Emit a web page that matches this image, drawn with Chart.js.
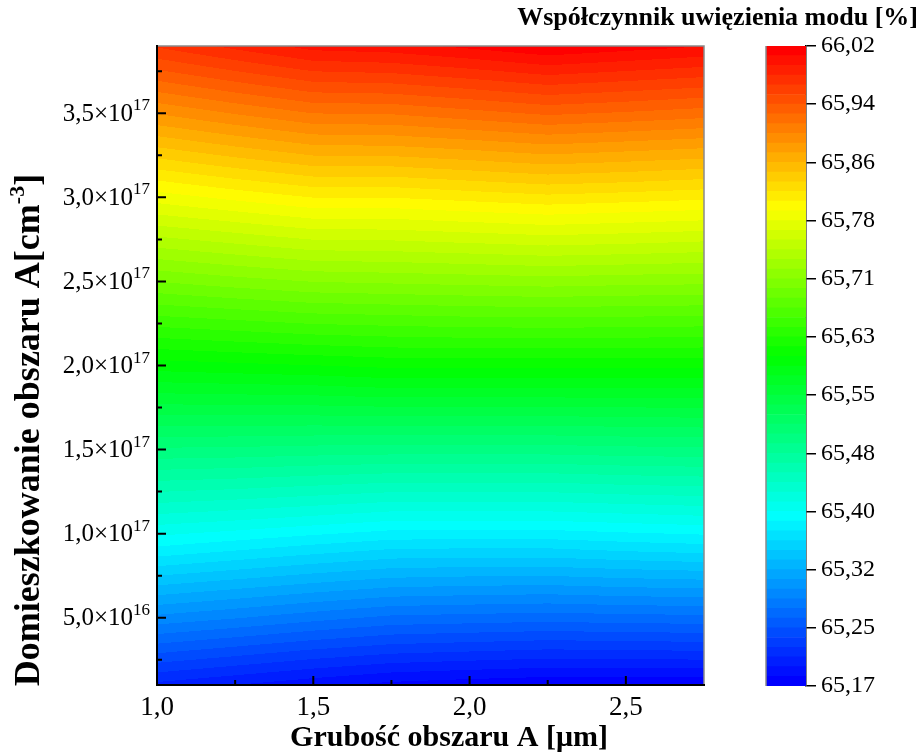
<!DOCTYPE html>
<html>
<head>
<meta charset="utf-8">
<script src="https://cdn.jsdelivr.net/npm/chart.js@4.4.1/dist/chart.umd.min.js"></script>
<style>
  html, body { margin: 0; padding: 0; background: #fff; }
  #wrap { position: relative; width: 921px; height: 753px; }
  #wrap canvas { position: absolute; left: 0; top: 0; }
</style>
</head>
<body>
<div id="wrap">
  <canvas id="mapCanvas" width="921" height="753"></canvas>
  <canvas id="barCanvas" width="921" height="753"></canvas>
</div>
<script>
// thickness of region A [um] (columns) and doping of region A [cm-3] (rows)
const thickness = [1.0, 1.25, 1.5, 1.75, 2.0, 2.25, 2.5, 2.75];
const doping = [0.1e17, 0.3e17, 0.5e17, 0.7e17, 0.9e17, 1.1e17, 1.3e17, 1.5e17, 1.7e17, 1.9e17,
                2.1e17, 2.3e17, 2.5e17, 2.7e17, 2.9e17, 3.1e17, 3.3e17, 3.5e17, 3.7e17, 3.9e17];
// mode confinement factor [%], one row per doping value
const confinement = [
  [65.203, 65.194, 65.185, 65.177, 65.173, 65.170, 65.170, 65.170],
  [65.248, 65.239, 65.230, 65.223, 65.220, 65.217, 65.218, 65.219],
  [65.293, 65.285, 65.276, 65.268, 65.266, 65.264, 65.266, 65.267],
  [65.337, 65.329, 65.321, 65.314, 65.312, 65.311, 65.314, 65.316],
  [65.382, 65.374, 65.366, 65.359, 65.358, 65.358, 65.362, 65.365],
  [65.422, 65.417, 65.411, 65.405, 65.405, 65.405, 65.408, 65.411],
  [65.461, 65.458, 65.454, 65.450, 65.450, 65.450, 65.453, 65.455],
  [65.500, 65.499, 65.497, 65.496, 65.496, 65.496, 65.498, 65.499],
  [65.540, 65.540, 65.540, 65.541, 65.541, 65.541, 65.542, 65.543],
  [65.579, 65.581, 65.583, 65.587, 65.587, 65.587, 65.587, 65.587],
  [65.618, 65.622, 65.626, 65.629, 65.630, 65.630, 65.630, 65.629],
  [65.657, 65.662, 65.667, 65.669, 65.671, 65.672, 65.671, 65.670],
  [65.695, 65.702, 65.708, 65.710, 65.712, 65.714, 65.712, 65.711],
  [65.733, 65.741, 65.749, 65.750, 65.753, 65.756, 65.754, 65.751],
  [65.772, 65.781, 65.790, 65.790, 65.794, 65.798, 65.795, 65.792],
  [65.810, 65.821, 65.831, 65.831, 65.836, 65.841, 65.838, 65.834],
  [65.849, 65.861, 65.872, 65.873, 65.878, 65.884, 65.880, 65.876],
  [65.888, 65.901, 65.913, 65.914, 65.921, 65.928, 65.924, 65.919],
  [65.927, 65.941, 65.954, 65.956, 65.963, 65.971, 65.966, 65.961],
  [65.966, 65.981, 65.995, 65.998, 66.006, 66.015, 66.009, 66.003]
];

const xMajorTicks = [1.0, 1.5, 2.0, 2.5];
const xMinorTicks = [1.25, 1.75, 2.25];
const yMajorTicks = [0.5e17, 1.0e17, 1.5e17, 2.0e17, 2.5e17, 3.0e17, 3.5e17];
const yMinorTicks = [0.25e17, 0.75e17, 1.25e17, 1.75e17, 2.25e17, 2.75e17, 3.25e17, 3.75e17];

const cbMin = 65.1685, cbMax = 66.0155;
const cbTicks = [65.1685, 65.2455, 65.3225, 65.3995, 65.4765, 65.5535, 65.6305, 65.7075, 65.7845, 65.8615, 65.9385, 66.0155];
const cbTickLabels = ['65,17', '65,25', '65,32', '65,40', '65,48', '65,55', '65,63', '65,71', '65,78', '65,86', '65,94', '66,02'];
const LEVELS = 66;

const cmapStops = [0, 0.26, 0.515, 0.75, 1];
const cmapColors = [[0, 0, 255], [0, 255, 255], [0, 255, 0], [255, 255, 0], [255, 0, 0]];

const SERIF = '"Liberation Serif", "Times New Roman", serif';
const X_TITLE = 'Grubość obszaru A [μm]';
const CB_TITLE = 'Współczynnik uwięzienia modu [%]';

function cmap(t) {
  t = Math.max(0, Math.min(1, t));
  let i = 0;
  while (i < cmapStops.length - 2 && t > cmapStops[i + 1]) i++;
  const f = (t - cmapStops[i]) / (cmapStops[i + 1] - cmapStops[i]);
  const a = cmapColors[i], b = cmapColors[i + 1];
  return [0, 1, 2].map(k => Math.round(a[k] + (b[k] - a[k]) * f));
}

function levelOf(v) {
  const step = (cbMax - cbMin) / LEVELS;
  return Math.max(0, Math.min(LEVELS - 1, Math.floor((v - cbMin) / step)));
}

function levelColor(k) { return cmap(k / (LEVELS - 1)); }

function locate(arr, v) {
  let i = 0;
  while (i < arr.length - 2 && v > arr[i + 1]) i++;
  const t = Math.max(0, Math.min(1, (v - arr[i]) / (arr[i + 1] - arr[i])));
  return [i, t];
}

// filled contour map, drawn pixel by pixel through the chart scales
const fieldPlugin = {
  id: 'field',
  beforeDatasetsDraw(chart) {
    const { ctx, chartArea: a, scales: { x, y } } = chart;
    const w = Math.round(a.right - a.left), h = Math.round(a.bottom - a.top);
    const off = document.createElement('canvas');
    off.width = w; off.height = h;
    const octx = off.getContext('2d');
    const img = octx.createImageData(w, h);
    const cols = [];
    for (let i = 0; i < w; i++) cols.push(locate(thickness, x.getValueForPixel(a.left + i + 0.5)));
    for (let j = 0; j < h; j++) {
      const [r, ty] = locate(doping, y.getValueForPixel(a.top + j + 0.5));
      const r0 = confinement[r], r1 = confinement[r + 1];
      for (let i = 0; i < w; i++) {
        const [c, tx] = cols[i];
        const v0 = r0[c] + (r0[c + 1] - r0[c]) * tx;
        const v1 = r1[c] + (r1[c + 1] - r1[c]) * tx;
        const rgb = levelColor(levelOf(v0 + (v1 - v0) * ty));
        const p = (j * w + i) * 4;
        img.data[p] = rgb[0]; img.data[p + 1] = rgb[1]; img.data[p + 2] = rgb[2]; img.data[p + 3] = 255;
      }
    }
    octx.putImageData(img, 0, 0);
    ctx.drawImage(off, a.left, a.top);
  }
};

// axes frame, inward ticks, y labels with exponents, axis titles
const framePlugin = {
  id: 'frame',
  beforeDraw(chart) {
    const { ctx } = chart;
    ctx.save(); ctx.fillStyle = '#fff'; ctx.fillRect(0, 0, chart.width, chart.height); ctx.restore();
  },
  afterDraw(chart) {
    const { ctx, chartArea: a, scales: { x, y } } = chart;
    ctx.save();
    ctx.strokeStyle = '#8a8a8a'; ctx.lineWidth = 1.5;
    ctx.beginPath();
    ctx.moveTo(a.left, a.top); ctx.lineTo(a.right, a.top); ctx.lineTo(a.right, a.bottom);
    ctx.stroke();
    ctx.strokeStyle = '#000'; ctx.lineWidth = 2;
    ctx.beginPath();
    ctx.moveTo(a.left, a.top - 1); ctx.lineTo(a.left, a.bottom); ctx.lineTo(a.right + 1, a.bottom);
    ctx.stroke();
    ctx.beginPath();
    xMajorTicks.forEach(v => { const px = x.getPixelForValue(v); ctx.moveTo(px, a.bottom); ctx.lineTo(px, a.bottom - 9); });
    xMinorTicks.forEach(v => { const px = x.getPixelForValue(v); ctx.moveTo(px, a.bottom); ctx.lineTo(px, a.bottom - 5); });
    yMajorTicks.forEach(v => { const py = y.getPixelForValue(v); ctx.moveTo(a.left, py); ctx.lineTo(a.left + 9, py); });
    yMinorTicks.forEach(v => { const py = y.getPixelForValue(v); ctx.moveTo(a.left, py); ctx.lineTo(a.left + 5, py); });
    ctx.stroke();

    ctx.fillStyle = '#000';
    yMajorTicks.forEach(v => {
      const py = y.getPixelForValue(v);
      const exp = Math.floor(Math.log10(v) + 1e-9);
      const mant = (v / Math.pow(10, exp)).toFixed(1).replace('.', ',');
      const right = a.left - 7;
      ctx.font = '17px ' + SERIF;
      ctx.textAlign = 'right'; ctx.textBaseline = 'alphabetic';
      const supW = ctx.measureText(String(exp)).width;
      ctx.fillText(String(exp), right, py - 3);
      ctx.font = '25px ' + SERIF;
      ctx.textBaseline = 'middle';
      ctx.fillText(mant + '\u00d710', right - supW, py + 1);
    });

    // x axis title
    ctx.font = 'bold 30px ' + SERIF;
    ctx.textAlign = 'center'; ctx.textBaseline = 'middle';
    ctx.fillText(X_TITLE, 449, 738);

    // y axis title with superscript
    const main = 'Domieszkowanie obszaru A[cm', sup = '-3', tail = ']';
    const big = 'bold 36px ' + SERIF, small = 'bold 22px ' + SERIF;
    ctx.translate(30, 430);
    ctx.rotate(-Math.PI / 2);
    ctx.textAlign = 'left'; ctx.textBaseline = 'middle';
    ctx.font = big; const w1 = ctx.measureText(main).width, w3 = ctx.measureText(tail).width;
    ctx.font = small; const w2 = ctx.measureText(sup).width;
    let sx = -(w1 + w2 + w3) / 2;
    ctx.font = big; ctx.fillText(main, sx, 0); sx += w1;
    ctx.font = small; ctx.fillText(sup, sx, -12); sx += w2;
    ctx.font = big; ctx.fillText(tail, sx, 0);
    ctx.restore();
  }
};

const points = [];
doping.forEach((d, r) => thickness.forEach((t, c) => points.push({ x: t, y: d, v: confinement[r][c] })));

new Chart(document.getElementById('mapCanvas'), {
  type: 'scatter',
  data: { datasets: [{ data: points, pointRadius: 0, pointHoverRadius: 0 }] },
  options: {
    responsive: false,
    animation: false,
    events: [],
    layout: { padding: { left: 0, right: 217, top: 46, bottom: 0 } },
    plugins: { legend: { display: false }, tooltip: { enabled: false } },
    scales: {
      x: {
        type: 'linear', min: 1, max: 2.75,
        ticks: {
          stepSize: 0.25, autoSkip: false, maxRotation: 0, padding: 7, color: '#000',
          font: { family: SERIF, size: 27 },
          callback: (v) => (Math.abs(v * 2 - Math.round(v * 2)) < 1e-9 ? Number(v).toFixed(1).replace('.', ',') : '')
        },
        grid: { display: false, drawTicks: false },
        border: { display: false },
        afterFit: (s) => { s.height = 68; }
      },
      y: {
        type: 'linear', min: 0.1e17, max: 3.9e17,
        ticks: { display: false },
        grid: { display: false, drawTicks: false },
        border: { display: false },
        afterFit: (s) => { s.width = 157; }
      }
    }
  },
  plugins: [fieldPlugin, framePlugin]
});

// colour scale: one floating bar per contour level
const levelSets = [];
for (let k = 0; k < LEVELS; k++) {
  const step = (cbMax - cbMin) / LEVELS;
  const rgb = levelColor(k);
  levelSets.push({
    data: [[cbMin + k * step, cbMin + (k + 1) * step]],
    backgroundColor: `rgb(${rgb[0]},${rgb[1]},${rgb[2]})`,
    borderWidth: 0, grouped: false, barPercentage: 1, categoryPercentage: 1
  });
}

const cbDecor = {
  id: 'cbDecor',
  afterDatasetsDraw(chart) {
    const { ctx, chartArea: a } = chart;
    ctx.save();
    ctx.strokeStyle = '#8a8a8a'; ctx.lineWidth = 1.5;
    ctx.beginPath(); ctx.moveTo(a.left, a.top); ctx.lineTo(a.left, a.bottom); ctx.stroke();
    ctx.fillStyle = '#000';
    ctx.font = 'bold 26px ' + SERIF;
    ctx.textAlign = 'right'; ctx.textBaseline = 'middle';
    ctx.fillText(CB_TITLE, 918, 18);
    ctx.restore();
  }
};

new Chart(document.getElementById('barCanvas'), {
  type: 'bar',
  data: { labels: [''], datasets: levelSets },
  options: {
    responsive: false,
    animation: false,
    events: [],
    layout: { padding: { left: 766, right: 3, top: 46, bottom: 67 } },
    plugins: { legend: { display: false }, tooltip: { enabled: false } },
    scales: {
      x: { display: false },
      y: {
        position: 'right', min: cbMin, max: cbMax,
        afterBuildTicks: (s) => { s.ticks = cbTicks.map(v => ({ value: v })); },
        ticks: {
          color: '#000', padding: 5, font: { family: SERIF, size: 24 },
          callback: (v) => cbTickLabels[cbTicks.findIndex(t => Math.abs(t - v) < 1e-6)] || ''
        },
        grid: { drawOnChartArea: false, drawTicks: true, tickLength: 10, color: '#000', lineWidth: 1.5 },
        border: { display: true, color: '#000', width: 1.5 },
        afterFit: (s) => { s.width = 112; }
      }
    }
  },
  plugins: [cbDecor]
});
</script>
</body>
</html>
